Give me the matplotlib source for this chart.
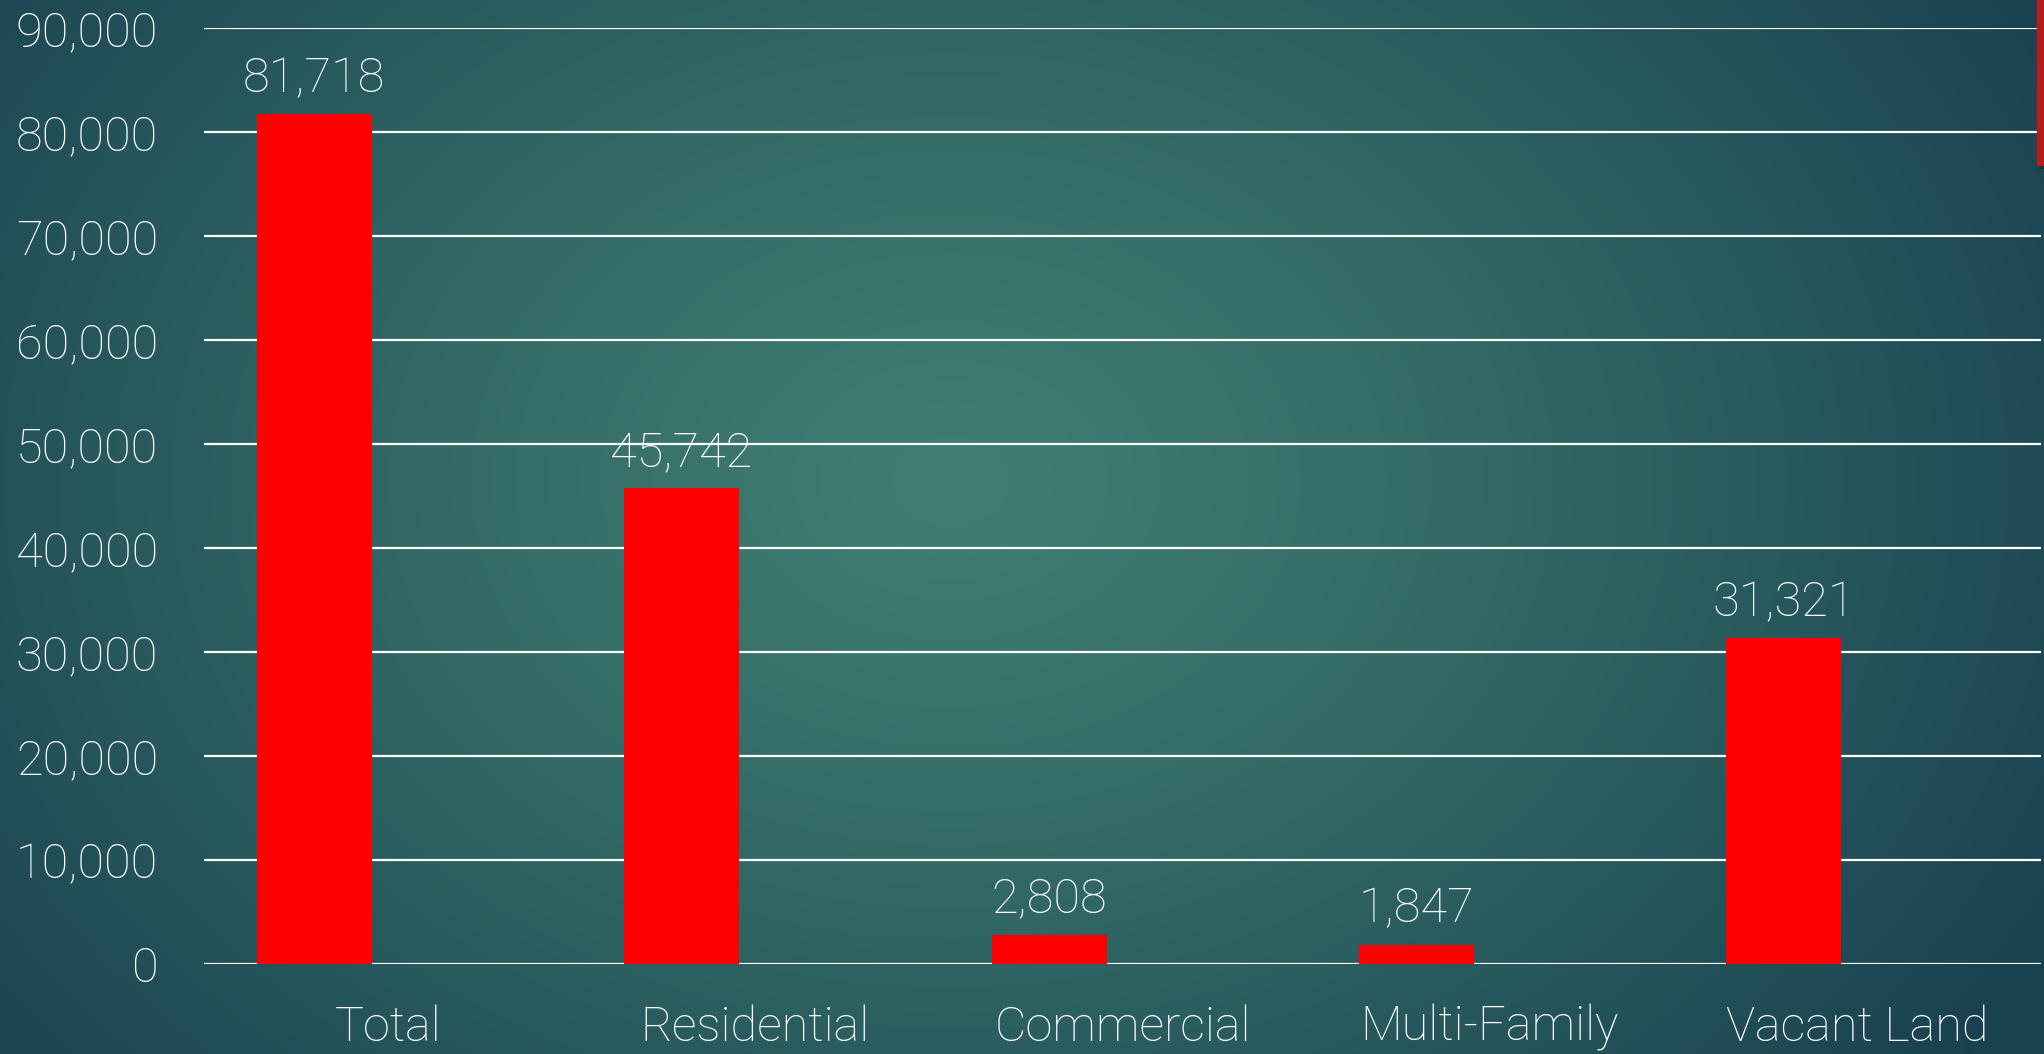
import numpy as np
import matplotlib
matplotlib.use('Agg')
import matplotlib.pyplot as plt
from matplotlib.patches import Rectangle

categories = ["Total", "Residential", "Commercial", "Multi-Family", "Vacant Land"]
values = [81718, 45742, 2808, 1847, 31321]
yticks = [0, 10000, 20000, 30000, 40000, 50000, 60000, 70000, 80000, 90000]

plt.rcParams['font.family'] = ['Roboto', 'DejaVu Sans']
plt.rcParams['font.weight'] = 'light'

W, H = 2044, 1054
fig = plt.figure(figsize=(W / 100, H / 100), dpi=100)

# radial gradient background
bg = fig.add_axes([0, 0, 1, 1], zorder=-10)
yy, xx = np.mgrid[0:H, 0:W]
r = np.sqrt(((xx - 950) / 1250.0) ** 2 + ((yy - 480) / 950.0) ** 2)
r = np.clip(r, 0, 1)
c0 = np.array([0x40, 0x7e, 0x72]) / 255.0
c1 = np.array([0x19, 0x42, 0x50]) / 255.0
img = c0 + (c1 - c0) * (r[..., None] ** 1.2)
bg.imshow(img, extent=[0, 1, 0, 1], aspect='auto', origin='upper')
bg.set_xlim(0, 1); bg.set_ylim(0, 1)
bg.axis('off')

# decorative red strip top-right
fig.patches.append(Rectangle((2039 / W, 1 - 168 / H), 8 / W, 168 / H,
                             transform=fig.transFigure, color='#0f2f38', alpha=0.5, zorder=1))
fig.patches.append(Rectangle((2037 / W, 1 - 165 / H), 8 / W, 165 / H,
                             transform=fig.transFigure, color='#b71c1c', zorder=2))

ax = fig.add_axes([204 / W, 1 - 964 / H, (2041 - 204) / W, (964 - 28) / H])
ax.set_facecolor('none')
x = np.arange(len(categories))
ax.bar(x - 0.2, values, width=0.313, color='#ff0000', zorder=3)
ax.set_xlim(-0.5, 4.5)
ax.set_ylim(0, 90000)
ax.set_yticks(yticks)
ax.set_yticklabels([f"{v:,}" for v in yticks])
ax.set_xticks(x)
ax.set_xticklabels(categories)
ax.tick_params(length=0, colors='white', labelsize=35)
ax.tick_params(axis='y', pad=33)
ax.tick_params(axis='x', pad=29)
ax.yaxis.grid(True, color='white', linewidth=1.6)
ax.set_axisbelow(True)
for s in ax.spines.values():
    s.set_visible(False)

for xi, v in zip(x, values):
    ax.annotate(f"{v:,}", (xi - 0.2, v), xytext=(0, 16), textcoords='offset points',
                ha='center', va='baseline', color='white', fontsize=35,
                annotation_clip=False)

fig.savefig('out.png', dpi=100)
